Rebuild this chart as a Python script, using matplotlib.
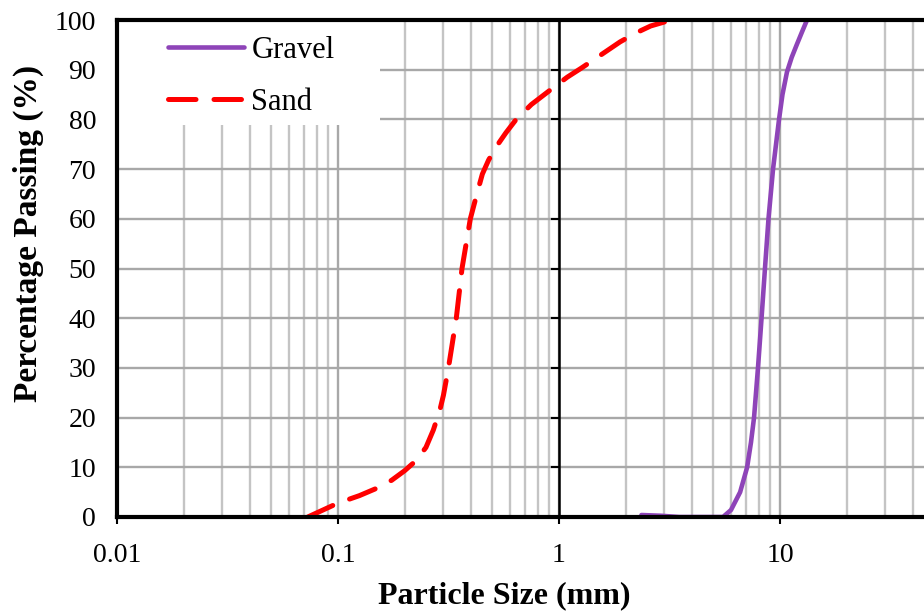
import matplotlib
matplotlib.use("Agg")
import matplotlib.pyplot as plt
import numpy as np
from matplotlib.patches import Rectangle

plt.rcParams['font.family'] = ['Liberation Serif', 'DejaVu Serif']

# ---- data ----
sand_size = [0.073, 0.1, 0.125, 0.15, 0.175, 0.2, 0.225, 0.25, 0.27, 0.289, 0.3,
             0.316, 0.343, 0.364, 0.397, 0.425, 0.45, 0.48, 0.52, 0.575, 0.64, 0.75,
             0.95, 1.09, 1.26, 1.55, 1.89, 2.23, 2.6, 3.0]
sand_pass = [0, 2.8, 4.3, 5.8, 7.4, 9.3, 11.3, 14.0, 17.5, 21.5, 24.5,
             30, 40, 50, 60, 65, 69, 71.8, 74.5, 77.3, 80, 83,
             86.5, 88.5, 90.3, 93, 95.6, 97.4, 98.8, 99.6]

gravel_size = [2.36, 2.9, 3.5, 5.52, 6.0, 6.6, 7.1, 7.39, 7.63, 7.95, 8.25, 8.55,
               8.87, 9.3, 9.9, 10.26, 10.75, 11.3, 11.9, 12.55, 13.25]
gravel_pass = [0.4, 0.25, 0, 0, 1.4, 5, 10, 15, 20, 30, 40, 50,
               60, 70, 80, 85, 89.5, 92.5, 95, 97.5, 100]

y_ticks = [0, 10, 20, 30, 40, 50, 60, 70, 80, 90, 100]
x_ticks = [0.01, 0.1, 1, 10]
x_ticklabels = ['0.01', '0.1', '1', '10']

W, H = 924, 612
fig = plt.figure(figsize=(W / 100, H / 100), dpi=100)

# axes in pixel geometry (extends past right edge like the cropped original)
x0, x1, ytop, ybot = 117, 1001, 20, 517
ax = fig.add_axes([x0 / W, (H - ybot) / H, (x1 - x0) / W, (ybot - ytop) / H])
ax.set_xscale('log')
ax.set_xlim(0.01, 100)
ax.set_ylim(0, 100)

# grid
ax.set_xticks(x_ticks)
ax.set_xticklabels(x_ticklabels)
ax.set_xticks([m * 10.0 ** e for e in range(-2, 2) for m in range(2, 10)], minor=True)
ax.set_yticks(y_ticks)
ax.grid(True, which='minor', axis='x', color='#c4c4c4', lw=1.7, zorder=0)
ax.grid(True, which='major', axis='x', color='#a8a8a8', lw=1.7, zorder=0)
ax.grid(True, which='major', axis='y', color='#a8a8a8', lw=1.7, zorder=0)
ax.set_axisbelow(True)

ax.tick_params(axis='x', which='major', direction='out', length=5, width=1.5,
               pad=14, labelsize=20)
ax.tick_params(axis='x', which='minor', length=0)
ax.tick_params(axis='y', which='major', length=0, pad=15, labelsize=20)

for s in ax.spines.values():
    s.set_linewidth(3)
    s.set_color('black')
    s.set_zorder(5)

# black vertical axis at x = 1 with left-pointing ticks
ax.axvline(1, color='black', lw=1.8, zorder=2)
ax.plot([1] * len(y_ticks), y_ticks, linestyle='none', marker=0,
        markersize=6, markeredgewidth=1.5, color='black', zorder=2)

# white legend background covering grid
ax.add_patch(Rectangle((0, (ybot - 125) / (ybot - ytop)), (380 - x0) / (x1 - x0),
                       1, transform=ax.transAxes, facecolor='white',
                       edgecolor='none', zorder=1.5))

# data lines
ax.plot(gravel_size, gravel_pass, color='#8E44B8', lw=3.3, zorder=3,
        solid_capstyle='round', solid_joinstyle='round', label='Gravel')
ax.plot(sand_size, sand_pass, color='#FF0000', lw=3.6, zorder=3,
        dashes=(5.5, 3.6), dash_capstyle='round', dash_joinstyle='round',
        label='Sand')

leg = ax.legend(loc='upper left', bbox_to_anchor=(168 / W, 1 - 36 / H),
                bbox_transform=fig.transFigure, frameon=False, fontsize=22,
                handlelength=2.5, handletextpad=0.23, labelspacing=0.75,
                borderpad=0, borderaxespad=0)
leg.set_zorder(6)

fig.text(504 / W, 1 - 596 / H, 'Particle Size (mm)', ha='center', va='center',
         fontsize=23, fontweight='bold')
fig.text(28 / W, 1 - 233 / H, 'Percentage Passing (%)', ha='center', va='center',
         rotation=90, fontsize=24, fontweight='bold')

fig.savefig('out.png', dpi=100)
